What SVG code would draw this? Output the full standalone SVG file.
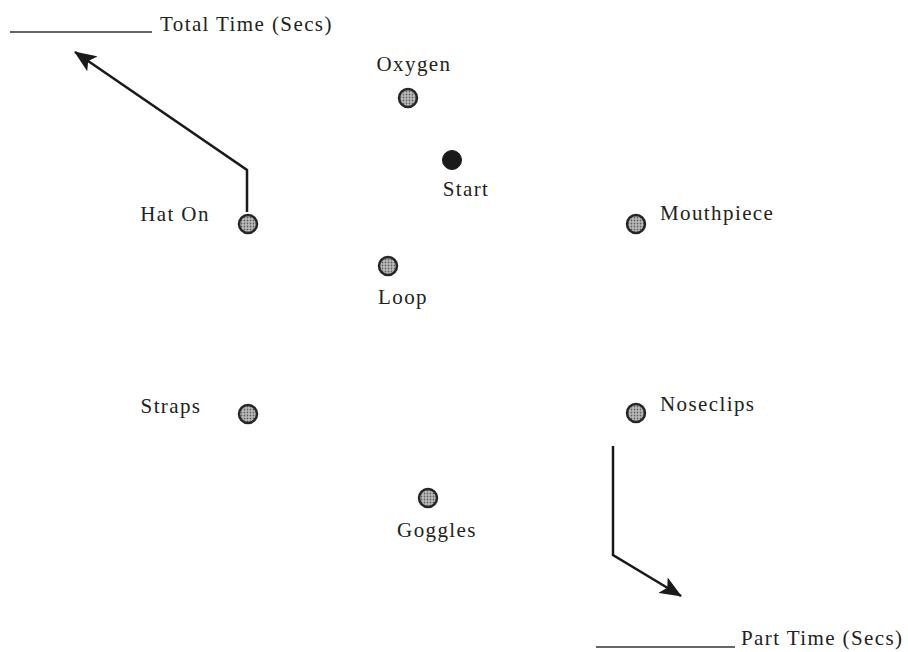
<svg xmlns="http://www.w3.org/2000/svg" width="908" height="652" viewBox="0 0 908 652">
<defs>
<pattern id="dots" width="3" height="3" patternUnits="userSpaceOnUse">
<rect width="3" height="3" fill="#bdbdbd"/>
<circle cx="1.5" cy="1.5" r="0.9" fill="#606060"/>
</pattern>
<marker id="ah2" viewBox="0 0 22 18" refX="21" refY="9" markerWidth="22" markerHeight="18" orient="auto" markerUnits="userSpaceOnUse">
<path d="M0,0 L22,9 L0,18 L5,9 z" fill="#1a1a1a"/>
</marker>
</defs>
<style>
text{font-family:"Liberation Serif","Times New Roman",serif;font-size:21px;letter-spacing:1.4px;fill:#222}
.n{fill:url(#dots);stroke:#262626;stroke-width:2.5}
.s{fill:#1a1a1a;stroke:#1a1a1a;stroke-width:1}
.c{fill:none;stroke:#1a1a1a;stroke-width:2.5}
.blank{stroke:#333;stroke-width:1.5}
</style>
<rect width="908" height="652" fill="#ffffff"/>
<g id="total-time">
<line class="blank" x1="10" y1="32" x2="152" y2="32"/>
<text x="160" y="31">Total Time (Secs)</text>
</g>
<g id="part-time">
<line class="blank" x1="596" y1="647" x2="735" y2="647"/>
<text x="741" y="645">Part Time (Secs)</text>
</g>
<g id="connectors">
<polyline class="c" points="247,212 247,170 75,52" marker-end="url(#ah2)"/>
<polyline class="c" points="613,446 613,555 681,596" marker-end="url(#ah2)"/>
</g>
<g id="oxygen"><circle class="n" cx="408" cy="98" r="9"/><text x="414" y="71" text-anchor="middle">Oxygen</text></g>
<g id="start"><circle class="s" cx="452" cy="160" r="9.5"/><text x="466" y="196" text-anchor="middle">Start</text></g>
<g id="hat-on"><circle class="n" cx="248" cy="224" r="9"/><text x="175" y="221" text-anchor="middle">Hat On</text></g>
<g id="mouthpiece"><circle class="n" cx="636" cy="224" r="9"/><text x="660" y="220">Mouthpiece</text></g>
<g id="loop"><circle class="n" cx="388" cy="266" r="9"/><text x="403" y="304" text-anchor="middle">Loop</text></g>
<g id="straps"><circle class="n" cx="248" cy="414" r="9"/><text x="171" y="413" text-anchor="middle">Straps</text></g>
<g id="noseclips"><circle class="n" cx="636" cy="413" r="9"/><text x="660" y="411">Noseclips</text></g>
<g id="goggles"><circle class="n" cx="428" cy="498" r="9"/><text x="437" y="537" text-anchor="middle">Goggles</text></g>
</svg>
